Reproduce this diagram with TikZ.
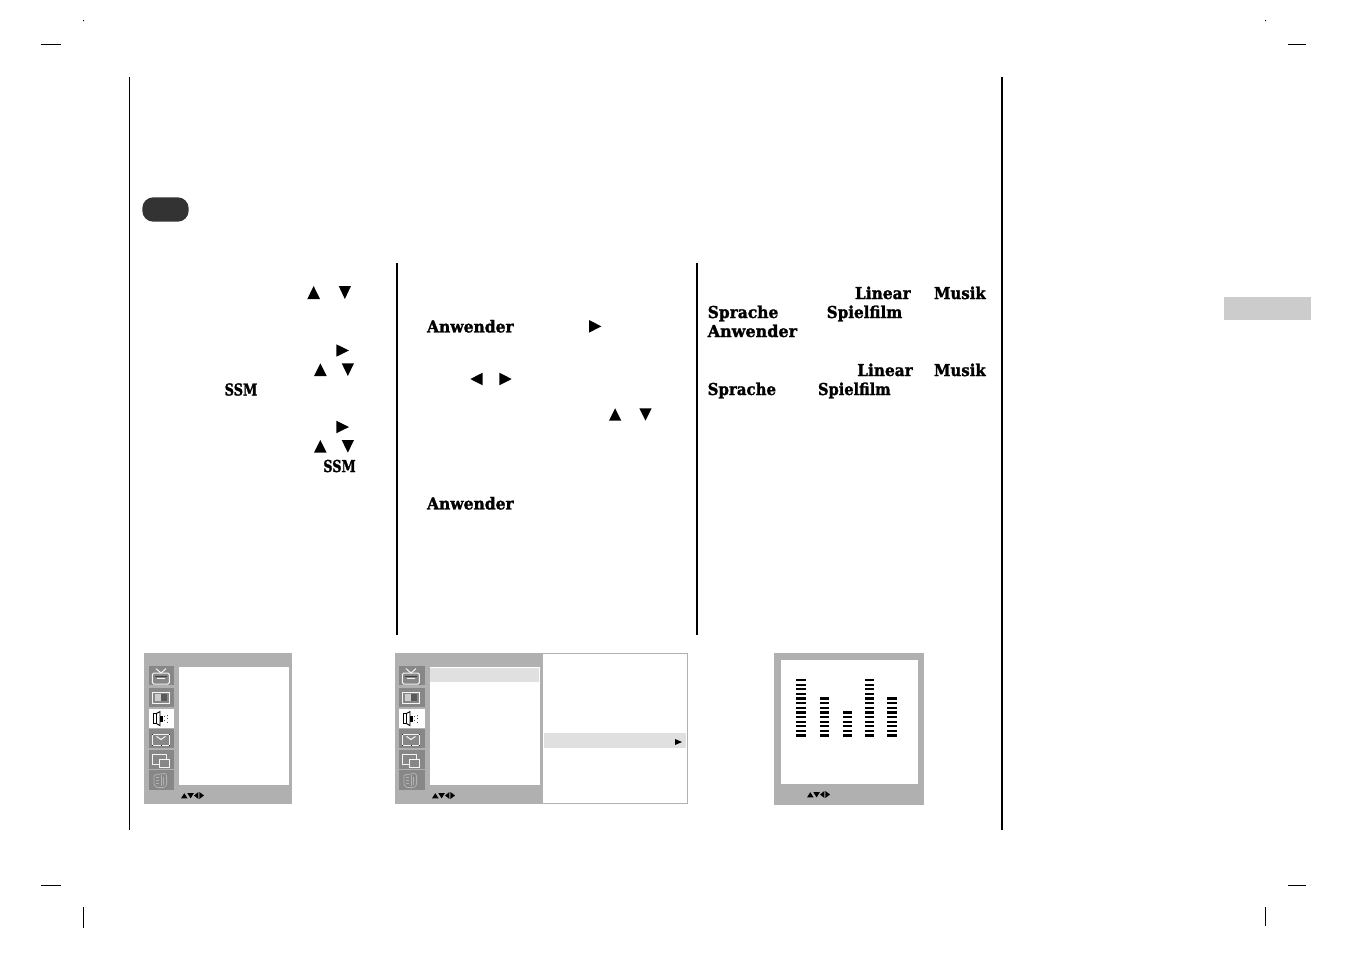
\documentclass[tikz,border=0pt]{standalone}
\usepackage{fontspec}
\setmainfont{DejaVu Serif}[BoldFeatures={FakeBold=1.6}]
\tikzset{
  x=1pt,y=-1pt,
  rule/.style={line width=2pt,black},
  thinrule/.style={line width=1.3pt,black},
  crop/.style={line width=1pt,black},
  word/.style={anchor=base west,inner sep=0pt,outer sep=0pt,font=\fontsize{16.4}{18}\selectfont\bfseries},
  panel/.style={fill=black!31,draw=none},
  lit/.style={line width=1pt,draw=black!4},
  dark/.style={line width=.9pt,draw=black!75},
  dim/.style={line width=.8pt,draw=black!30},
  hilite/.style={fill=black!12,draw=none},
}
% triangles: x0 x1 y0 y1
\newcommand{\tup}[4]{\fill (#1,#4) -- ({(#1+#2)/2},#3) -- (#2,#4) -- cycle;}
\newcommand{\tdown}[4]{\fill (#1,#3) -- ({(#1+#2)/2},#4) -- (#2,#3) -- cycle;}
\newcommand{\tright}[4]{\fill (#1,#3) -- (#2,{(#3+#4)/2}) -- (#1,#4) -- cycle;}
\newcommand{\tleft}[4]{\fill (#2,#3) -- (#1,{(#3+#4)/2}) -- (#2,#4) -- cycle;}
% label: name, x, baseline y, width, text
\newcommand{\lbl}[5]{\node[word] (#1) at (#2,#3) {\resizebox{#4pt}{\height}{#5}};}
% nav arrows at shift x,y
\newcommand{\navarrows}[2]{\begin{scope}[shift={(#1,#2)}]
  \tup{0}{6.6}{1.2}{6.4}\tdown{6.4}{12.8}{1.2}{6.4}\tleft{13}{17.4}{0}{7}\tright{18.4}{23}{0}{7}
\end{scope}}
% icon column: x origin, tile width
\newcommand{\tiles}[2]{\begin{scope}[shift={(#1,0)}]
  \fill[black!47] (0,666) rectangle (#2,685.3);
  \fill[black!47] (0,688) rectangle (#2,707.3);
  \fill[white]    (0,709) rectangle (#2,728.3);
  \fill[black!47] (0,729) rectangle (#2,748.3);
  \fill[black!47] (0,750) rectangle (#2,769.3);
  \fill[black!47] (0,770) rectangle (#2,790);
  % tv
  \draw[lit,rounded corners=1.5pt] (3.4,673) rectangle (20.4,684);
  \draw[lit] (7,668.6) -- (12,673) -- (17,668.6);
  \draw[dark] (6,676.6) -- (18,676.6);
  \draw[lit] (8,678.8) -- (16,678.8);
  % picture
  \draw[lit] (3.4,692) rectangle (20.4,703.3);
  \fill[black!20] (6,694.3) rectangle (12,701);
  \fill[black!65] (12,694.3) rectangle (18,701);
  % speaker
  \draw[line width=.9pt,black] (4.6,713.4) rectangle (7.2,723.6);
  \draw[line width=.9pt,black] (7.2,713.6) -- (11,711.6) -- (11,725.6) -- (7.2,723.4);
  \fill[black] (11,715.5) rectangle (14.4,721.5);
  \foreach \yy in {714.5,718,721.5} \fill[black!70] (17.6,\yy) rectangle (18.6,\yy+1.2);
  \foreach \yy in {716,720} \fill[black!70] (15.4,\yy) rectangle (16.4,\yy+1.2);
  % clock
  \draw[lit] (3.4,734) rectangle (20.4,745.4);
  \foreach \cx/\cy in {3/733.6,20/733.6,3/745,20/745,11.5/745} \fill[black!85] (\cx,\cy) rectangle (\cx+1,\cy+1);
  \draw[lit] (7.5,736.4) -- (12,739.5) -- (16.5,736.4);
  % windows
  \draw[lit] (3.4,754.4) rectangle (17,764.4);
  \fill[black!47] (10.4,759.3) rectangle (20.6,767);
  \draw[lit] (10.4,759.3) rectangle (20.6,767);
  % cube
  \draw[dim,rounded corners=1pt] (5,775) -- (16,773.3) -- (17.6,775) -- (17.6,785) -- (15,787.6) -- (8,787.6) -- (5,785) -- cycle;
  \draw[dim] (12,775) -- (12,786) (14,777) -- (14,785);
  \foreach \yy in {777,780,783} \draw[dim] (6.5,\yy) -- (9.5,\yy);
\end{scope}}
\begin{document}
\begin{tikzpicture}
\useasboundingbox (0,0) rectangle (1351,954);
\fill[white] (0,0) rectangle (1351,954);
% crop marks
\draw[crop] (41,44.5) -- (61,44.5) (1288,44.5) -- (1306,44.5) (41,885.5) -- (61,885.5) (1288,885.5) -- (1306,885.5);
\draw[crop] (83.5,907) -- (83.5,928) (1265.5,907) -- (1265.5,926);
\fill (83,20) rectangle (84,21) (1265,20) rectangle (1266,21);
% frame rules
\draw[thinrule] (129.5,77) -- (129.5,830);
\draw[rule] (1002,77) -- (1002,830);
\draw[rule] (397,263) -- (397,635);
\draw[rule] (697,263) -- (697,635);
% pill and tab
\fill[black!80,rounded corners=11pt] (142.3,197.3) rectangle (188.7,221.7);
\fill[black!20] (1224,297) rectangle (1311,320);
% column 1
\tup{307.3}{320}{286}{299}\tdown{338.7}{351}{286}{299}
\tright{336.3}{349}{344.3}{356.7}
\tup{314}{326.7}{363.3}{376}\tdown{341.7}{354}{363.3}{376}
\lbl{ssma}{224.7}{395.5}{32.6}{SSM}
\tright{336.3}{349}{420.7}{433.3}
\tup{314}{326.7}{440}{452.7}\tdown{341.7}{354}{440}{452.7}
\lbl{ssmb}{323.3}{472}{32.4}{SSM}
% column 2
\lbl{anwa}{427}{332.4}{86.7}{Anwender}
\tright{589}{601.3}{320}{332.7}
\tleft{470.3}{482.7}{372.7}{385.3}\tright{499.3}{511.7}{372.7}{385.3}
\tup{609}{621.3}{408.3}{420.7}\tdown{639.3}{651.7}{408.3}{420.7}
\lbl{anwb}{427}{509.4}{86.7}{Anwender}
% column 3
\lbl{lina}{855}{299}{55.7}{Linear}
\lbl{musa}{934}{299}{51.7}{Musik}
\lbl{spra}{707.7}{318}{70.6}{Sprache}
\lbl{fila}{826.7}{318}{75.6}{Spielfilm}
\lbl{anwc}{707.7}{337}{89.3}{Anwender}
\lbl{linb}{857.3}{376}{55.4}{Linear}
\lbl{musb}{934}{376}{51.7}{Musik}
\lbl{sprb}{707.7}{395}{68.3}{Sprache}
\lbl{filb}{818}{395}{72.7}{Spielfilm}
% screen 1
\fill[panel] (144,653) rectangle (292,804);
\fill[white] (179,667) rectangle (289,785);
\tiles{149}{25}
\navarrows{181}{792}
% screen 2
\fill[white] (543,653.5) rectangle (687.5,803.5);
\draw[line width=1pt,black!31] (543,653.5) -- (687.5,653.5) -- (687.5,803.5) -- (543,803.5);
\fill[panel] (395,653) rectangle (543,804);
\fill[white] (430,667) rectangle (540,785);
\fill[hilite] (430,668) rectangle (539,682);
\fill[hilite] (544,733) rectangle (686,748);
\tright{675}{682}{739}{745}
\tiles{399}{26}
\navarrows{432}{792}
% screen 3
\fill[panel] (774,653) rectangle (924,805);
\fill[white] (781,660) rectangle (918,784);
\foreach \bx/\bw/\n in {796/10/13,820/9/9,843/9/6,865/9/13,887/10/9}{
  \foreach \k in {1,...,\n}{
    \fill (\bx,{735.5-(\k-1)*4.62-1.15}) rectangle (\bx+\bw,{735.5-(\k-1)*4.62+1.15});
  }
}
\navarrows{807}{791}
\end{tikzpicture}
\end{document}
